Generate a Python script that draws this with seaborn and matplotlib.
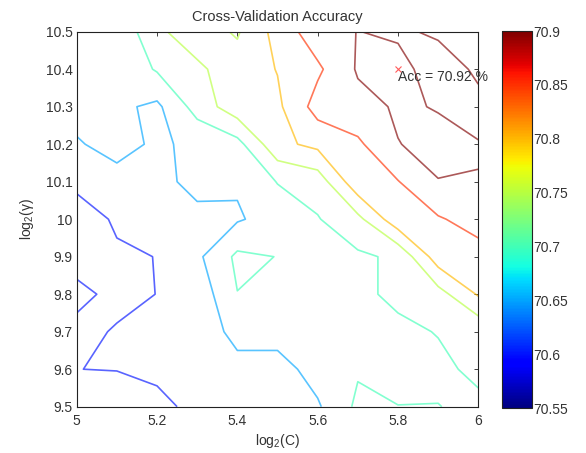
import numpy as np
import matplotlib
matplotlib.use("Agg")
import matplotlib.pyplot as plt
import seaborn as sns
from matplotlib import cm, colors

# grid of the parameter search
log2c = [5.0, 5.1, 5.2, 5.3, 5.4, 5.5, 5.6, 5.7, 5.8, 5.9, 6.0]
log2g = [9.5, 9.6, 9.7, 9.8, 9.9, 10.0, 10.1, 10.2, 10.3, 10.4, 10.5]

# cross-validation accuracy (%), one row per log2(gamma), columns follow log2c
acc_g95 = [70.585, 70.59, 70.59, 70.61, 70.62, 70.62, 70.644, 70.71, 70.701, 70.701, 70.69]
acc_g96 = [70.5999, 70.6005, 70.608, 70.625, 70.64, 70.63, 70.67, 70.695, 70.68, 70.69, 70.71]
acc_g97 = [70.59, 70.603, 70.62, 70.63, 70.66, 70.67, 70.675, 70.68, 70.69, 70.702, 70.71]
acc_g98 = [70.61, 70.59, 70.6005, 70.617, 70.699, 70.68, 70.68, 70.69, 70.71, 70.73, 70.805]
acc_g99 = [70.585, 70.596, 70.6005, 70.64, 70.71, 70.699, 70.69, 70.692, 70.708, 70.827, 70.83]
acc_g100 = [70.585, 70.604, 70.625, 70.641, 70.645, 70.67, 70.697, 70.736, 70.834, 70.845, 70.87]
acc_g101 = [70.607, 70.635, 70.64, 70.66, 70.655, 70.702, 70.7215, 70.836, 70.848, 70.899, 70.899]
acc_g102 = [70.646, 70.665, 70.643, 70.66, 70.683, 70.787, 70.813, 70.841, 70.899, 70.91, 70.902]
acc_g103 = [70.665, 70.66, 70.64, 70.72, 70.78, 70.79, 70.87, 70.885, 70.905, 70.898, 70.885]
acc_g104 = [70.67, 70.66, 70.705, 70.743, 70.77, 70.802, 70.841, 70.905, 70.92, 70.87, 70.91]
acc_g105 = [70.66, 70.657, 70.743, 70.77, 70.745, 70.818, 70.88, 70.901, 70.891, 70.909, 70.915]

levels = [70.6, 70.65, 70.7, 70.75, 70.8, 70.85, 70.9]
cbar_ticks = [70.55, 70.6, 70.65, 70.7, 70.75, 70.8, 70.85, 70.9]
xticks = [5, 5.2, 5.4, 5.6, 5.8, 6]
yticks = [9.5, 9.6, 9.7, 9.8, 9.9, 10, 10.1, 10.2, 10.3, 10.4, 10.5]

best_c, best_g, best_acc = 5.8, 10.4, 70.92

sns.set_style("white")
plt.rcParams['font.family'] = ['Liberation Sans', 'DejaVu Sans']
plt.rcParams['mathtext.fontset'] = 'custom'
plt.rcParams['mathtext.rm'] = 'Liberation Sans'
plt.rcParams['mathtext.it'] = 'Liberation Sans'
plt.rcParams['font.size'] = 10
txt_col = '#333333'

acc = np.array([acc_g95, acc_g96, acc_g97, acc_g98, acc_g99, acc_g100,
                acc_g101, acc_g102, acc_g103, acc_g104, acc_g105])

fig = plt.figure(figsize=(5.86, 4.53), dpi=100)
ax = fig.add_axes([0.1309, 0.1022, 0.6853, 0.8278])

cmap = plt.get_cmap('jet')
norm = colors.Normalize(vmin=70.55, vmax=70.9)
ax.contour(log2c, log2g, acc, levels=levels, cmap=cmap, norm=norm,
           linewidths=1.2, alpha=0.65)

ax.plot(best_c, best_g, 'x', color='#ff5a5a', ms=4, mew=0.8)
ax.text(best_c, best_g - 0.02, 'Acc = %.2f %%' % best_acc, ha='left', va='center',
        fontsize=10, color=txt_col, clip_on=False)

ax.set_xlim(5, 6)
ax.set_ylim(9.5, 10.5)
ax.set_xticks(xticks)
ax.set_xticklabels(['%g' % v for v in xticks])
ax.set_yticks(yticks)
ax.set_yticklabels(['%g' % v for v in yticks])
ax.tick_params(direction='in', top=True, right=True, length=3, width=0.6,
               colors='#222222', labelcolor=txt_col, labelsize=10)
ax.tick_params(axis='x', pad=5)
ax.tick_params(axis='y', pad=3)
for s in ax.spines.values():
    s.set_color('#222222')
    s.set_linewidth(0.8)
ax.set_xlabel('log$_2$(C)', fontsize=10, labelpad=3, color=txt_col)
ax.set_ylabel('log$_2$(\u03b3)', fontsize=10, labelpad=7, color=txt_col)
ax.set_title('Cross-Validation Accuracy', fontsize=10.5, pad=8, color=txt_col)

cax = fig.add_axes([0.856, 0.0993, 0.0512, 0.832])
cb = fig.colorbar(cm.ScalarMappable(norm=norm, cmap=cmap), cax=cax, ticks=cbar_ticks)
cb.set_ticklabels(['%g' % v for v in cbar_ticks])
cb.ax.tick_params(direction='in', left=True, right=True, length=3, width=0.6,
                  labelsize=10, colors='#222222', labelcolor=txt_col, pad=1)
cb.outline.set_linewidth(0.8)
cb.outline.set_edgecolor('#222222')

fig.savefig('out.png', dpi=100)
